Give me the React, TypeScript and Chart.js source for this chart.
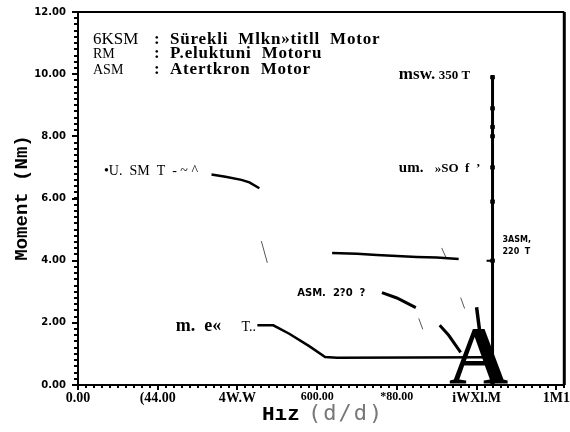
import React, { useEffect, useRef } from "react";
import { Chart, registerables } from "chart.js";

Chart.register(...registerables);

// ---- data ----
const xTickValues = [0, 2000, 4000, 6000, 8000, 10000, 12000];
const xTickLabels = ["0.00", "(44.00", "4W.W", "600.00", "*80.00", "iWXl.M", "1M1"];
const yTickValues = [0, 2, 4, 6, 8, 10, 12];
const yTickLabels = ["0.00", "2.00", "4.00", "6.00", "8.00", "10.00", "12.00"];

const usmX = [3350, 3700, 4100, 4300, 4550];
const usmY = [6.77, 6.7, 6.6, 6.52, 6.33];

const um50X = [6375, 7000, 7500, 8500, 9000, 9550];
const um50Y = [4.25, 4.22, 4.18, 4.12, 4.1, 4.05];

const asmAX = [7625, 8000, 8475];
const asmAY = [2.97, 2.8, 2.49];
const asmBX = [9075, 9300, 9600];
const asmBY = [1.92, 1.6, 1.05];

const rmX = [4500, 4900, 5300, 5800, 6200, 6500, 10300];
const rmY = [1.92, 1.92, 1.65, 1.25, 0.9, 0.88, 0.89];

const steepX = [10000, 10100, 10200, 10250];
const steepY = [2.5, 1.5, 1.0, 0.75];

const ksmX = [10400, 10400, 10400, 10400, 10400, 10400, 10400, 10400];
const ksmY = [9.9, 8.9, 8.3, 8.0, 7.0, 5.9, 4.0, 0];

const dashX = [10250, 10380];
const dashY = [4.0, 4.0];

const slashes = [
  { x: [4600, 4750], y: [4.63, 3.93] },
  { x: [9125, 9225], y: [4.41, 4.12] },
  { x: [8550, 8650], y: [2.14, 1.79] },
  { x: [9600, 9700], y: [2.81, 2.46] },
];

const pts = (xs: number[], ys: number[]) => xs.map((x, i) => ({ x, y: ys[i] }));

export default function App() {
  const ref = useRef<HTMLCanvasElement | null>(null);
  useEffect(() => {
    const canvas = ref.current!;
    const line = (xs: number[], ys: number[], w = 2.5, radius = 0) => ({
      data: pts(xs, ys),
      showLine: true,
      borderColor: "#000",
      backgroundColor: "#000",
      pointBackgroundColor: "#000",
      pointBorderColor: "#000",
      borderWidth: w,
      pointRadius: radius,
      pointStyle: "rect" as const,
      tension: 0,
    });
    const datasets: any[] = [
      line(usmX, usmY, 2.5),
      line(um50X, um50Y, 2.5),
      line(asmAX, asmAY, 3),
      line(asmBX, asmBY, 3),
      line(rmX, rmY, 2.5),
      line(steepX, steepY, 3.5),
      { ...line(ksmX, ksmY, 3, 2.5), pointBorderWidth: 1 },
      line(dashX, dashY, 2),
      ...slashes.map((s) => ({ ...line(s.x, s.y, 1), borderColor: "#555" })),
    ];

    const annot = {
      id: "annot",
      afterDraw(chart: any) {
        const c = chart.ctx;
        const xs = chart.scales.x;
        const ys = chart.scales.y;
        const ca = chart.chartArea;
        const X = (v: number) => xs.getPixelForValue(v);
        const Y = (v: number) => ys.getPixelForValue(v);
        c.save();
        c.fillStyle = "#000";
        c.strokeStyle = "#000";
        // frame: top and right
        c.lineWidth = 2;
        c.beginPath();
        c.moveTo(ca.left, ca.top);
        c.lineTo(ca.right, ca.top);
        c.stroke();
        c.lineWidth = 3;
        c.beginPath();
        c.moveTo(ca.right, ca.top);
        c.lineTo(ca.right, ca.bottom);
        c.stroke();
        // minor ticks
        c.lineWidth = 2;
        for (let v = 0; v <= 12.001; v += 0.2) {
          const p = Math.round(Y(v));
          c.beginPath();
          c.moveTo(ca.left - 4, p);
          c.lineTo(ca.left, p);
          c.stroke();
        }
        for (let v = 0; v <= 12200; v += 200) {
          const p = Math.round(X(v));
          c.beginPath();
          c.moveTo(p, ca.bottom);
          c.lineTo(p, ca.bottom + 3);
          c.stroke();
        }
        c.textBaseline = "alphabetic";
        c.textAlign = "left";
        // legend
        c.font = "17px 'Liberation Serif'";
        c.fillText("6KSM", ca.left + 15, 44);
        c.font = "bold 17px 'Liberation Serif'";
        (c as any).letterSpacing = "0.8px";
        c.fillText(":", ca.left + 76, 44);
        c.fillText("Sürekli  Mlkn»titll  Motor", ca.left + 92, 44);
        (c as any).letterSpacing = "0px";
        c.font = "14px 'Liberation Serif'";
        c.fillText("RM", ca.left + 15, 58);
        c.font = "bold 17px 'Liberation Serif'";
        (c as any).letterSpacing = "0.8px";
        c.fillText(":", ca.left + 76, 58);
        c.fillText("P.eluktuni  Motoru", ca.left + 92, 58);
        (c as any).letterSpacing = "0px";
        c.font = "14px 'Liberation Serif'";
        c.fillText("ASM", ca.left + 15, 74);
        c.font = "bold 17px 'Liberation Serif'";
        (c as any).letterSpacing = "0.8px";
        c.fillText(":", ca.left + 76, 74);
        c.fillText("Atertkron  Motor", ca.left + 92, 74);
        (c as any).letterSpacing = "0px";
        // curve labels
        c.font = "14px 'Liberation Serif'";
        c.fillText("•U.  SM  T  - ~ ^", X(650), Y(6.75));
        c.font = "bold 15px 'Liberation Serif'";
        c.fillText("um.", X(8050), Y(6.85));
        c.font = "bold 13px 'Liberation Serif'";
        c.fillText("»SO  f  ’", X(8950), Y(6.85));
        c.font = "bold 17px 'Liberation Serif'";
        c.fillText("msw.", X(8050), Y(9.85));
        c.font = "bold 13px 'Liberation Serif'";
        c.fillText("350 T", X(9050), Y(9.85));
        c.font = "bold 10px 'DejaVu Sans'";
        c.fillText("ASM.  2?0  ?", X(5500), Y(2.85));
        c.font = "bold 8px 'DejaVu Sans'";
        c.fillText("3ASM,", X(10650), Y(4.6));
        c.fillText("220  T", X(10650), Y(4.2));
        c.font = "bold 18px 'Liberation Serif'";
        c.fillText("m.  e«", X(2450), Y(1.75));
        c.font = "14px 'Liberation Serif'";
        c.fillText("T..", X(4100), Y(1.75));
        // big A
        c.font = "bold 82px 'Liberation Serif'";
        c.textAlign = "center";
        c.fillText("A", X(10050), ca.bottom - 2);
        // axis titles
        c.textAlign = "left";
        c.font = "bold 21px 'Liberation Mono'";
        c.fillText("Hız", 262, 420);
        c.fillStyle = "#777";
        c.font = "22px 'DejaVu Sans Mono'";
        (c as any).letterSpacing = "2px";
        c.fillText("(d/d)", 308, 420);
        (c as any).letterSpacing = "0px";
        c.fillStyle = "#000";
        c.save();
        c.translate(27, 198);
        c.rotate(-Math.PI / 2);
        c.textAlign = "center";
        c.font = "bold 19px 'Liberation Mono'";
        c.fillText("Moment (Nm)", 0, 0);
        c.restore();
        c.restore();
      },
    };

    const chart = new Chart(canvas, {
      type: "scatter",
      data: { datasets },
      options: {
        animation: false,
        responsive: false,
        devicePixelRatio: 1,
        layout: { padding: { top: 9, right: 4, left: 0, bottom: 0 } },
        plugins: { legend: { display: false }, tooltip: { enabled: false } },
        scales: {
          x: {
            type: "linear",
            min: 0,
            max: 12200,
            afterBuildTicks: (s: any) => {
              s.ticks = xTickValues.map((v) => ({ value: v }));
            },
            afterFit: (s: any) => {
              s.height = 47;
            },
            grid: { display: true, drawOnChartArea: false, tickLength: 5, color: "#000", lineWidth: 2 },
            border: { display: true, color: "#000", width: 2 },
            ticks: {
              color: "#000",
              padding: 0,
              maxRotation: 0,
              autoSkip: false,
              font: (ctx: any) => ({
                family: "'Liberation Serif'",
                weight: "bold",
                size: ctx.index === 3 || ctx.index === 4 ? 12 : 14,
              }),
              callback: (v: any) => {
                const i = xTickValues.indexOf(Number(v));
                return i >= 0 ? xTickLabels[i] : "";
              },
            },
          },
          y: {
            type: "linear",
            min: 0,
            max: 12,
            afterBuildTicks: (s: any) => {
              s.ticks = yTickValues.map((v) => ({ value: v }));
            },
            afterFit: (s: any) => {
              s.width = 78;
            },
            grid: { display: true, drawOnChartArea: false, tickLength: 6, color: "#000", lineWidth: 2 },
            border: { display: true, color: "#000", width: 2 },
            ticks: {
              color: "#000",
              padding: 6,
              autoSkip: false,
              font: { family: "'DejaVu Sans'", weight: "bold", size: 10 },
              callback: (v: any) => {
                const i = yTickValues.indexOf(Number(v));
                return i >= 0 ? yTickLabels[i] : "";
              },
            },
          },
        },
      },
      plugins: [annot],
    });
    return () => chart.destroy();
  }, []);
  return (
    <div style={{ position: "absolute", left: 0, top: 0, width: 570, height: 432, background: "#fff" }}>
      <canvas ref={ref} width={570} height={432} />
    </div>
  );
}
